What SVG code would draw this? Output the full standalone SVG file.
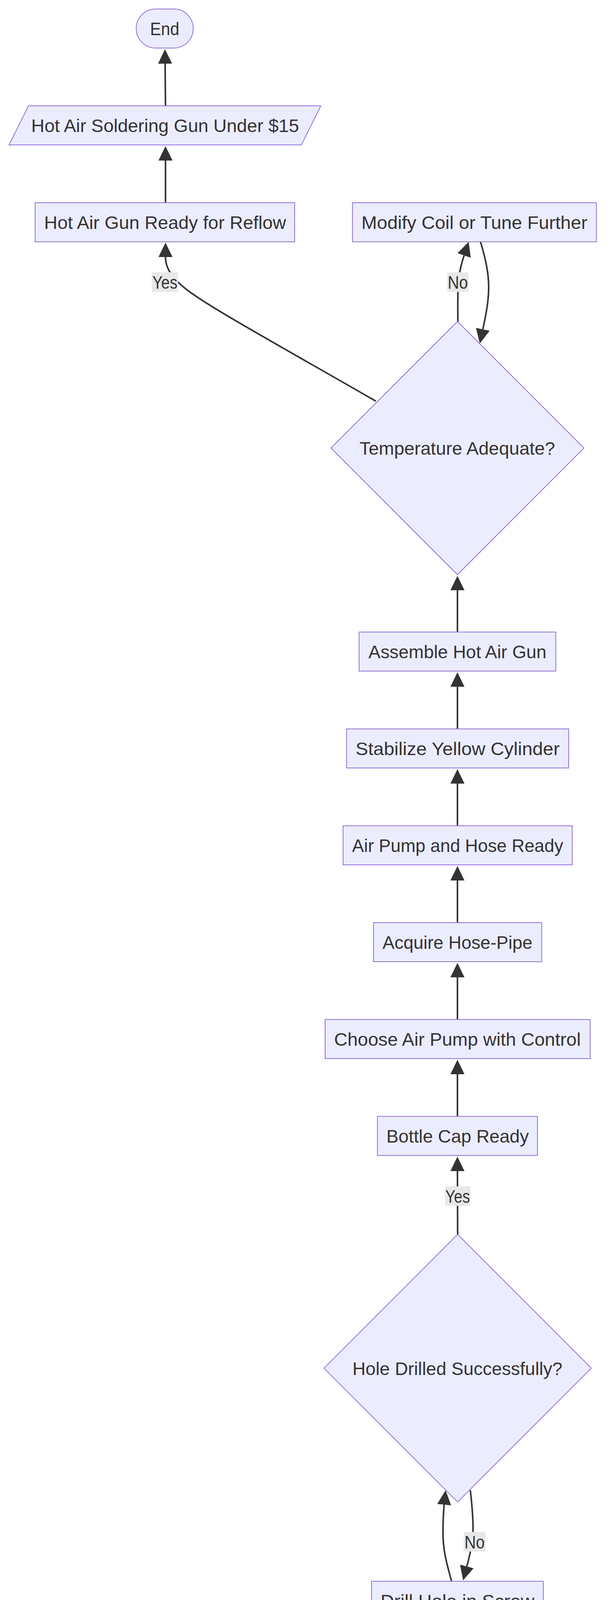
<svg xmlns="http://www.w3.org/2000/svg" width="1568" height="5272" viewBox="0 0 1568 5272">
<style>
.node rect, .node polygon { fill: #ECECFF; stroke: #9370DB; stroke-width: 2; }
text { font-family: "Liberation Sans", Arial, sans-serif; font-size: 46px; fill: #333333; text-anchor: middle; }
.edge { fill: none; stroke: #333333; stroke-width: 4; marker-end: url(#arrow); }
.lbl rect { fill: #e8e8e8; stroke: none; }
</style>
<defs>
<marker id="arrow" markerUnits="userSpaceOnUse" markerWidth="37" markerHeight="36" viewBox="0 0 37 36" refX="0" refY="18" orient="auto">
<path d="M0,0 L37,18 L0,36 z" fill="#333333"/>
</marker>
</defs>
<rect x="0" y="0" width="1568" height="5272" fill="#ffffff"/>
<g id="connectors">
<path class="edge" d="M1172,5094 L1172,4986"/>
<path class="edge" d="M1172,4846 L1172,4738"/>
<path class="edge" d="M1172,4598 L1172,4436"/>
<path class="edge" d="M1172,4296 L1172,4188"/>
<path class="edge" d="M1157,4048 C1145,4005 1135,3970 1135,3925 C1135,3895 1136,3872 1138,3852"/>
<path class="edge" d="M1205,3815 C1209,3850 1212,3880 1212,3912 C1212,3950 1204,3980 1196,4010"/>
<path class="edge" d="M1172.5,3160 L1172,2998"/>
<path class="edge" d="M1172,2858 L1172,2750"/>
<path class="edge" d="M1172,2610 L1172,2502"/>
<path class="edge" d="M1172,2362 L1172,2254"/>
<path class="edge" d="M1172,2114 L1172,2006"/>
<path class="edge" d="M1172,1866 L1172,1758"/>
<path class="edge" d="M1172,1618 L1172,1511"/>
<path class="edge" d="M1173,823 C1173,780 1172,750 1175,715 C1178,690 1183,672 1189,654"/>
<path class="edge" d="M1231,619 C1245,665 1252,700 1252,735 C1252,775 1244,810 1237,843"/>
<path class="edge" d="M963,1027 C760,910 560,800 490,750 C445,718 424,690 424,658"/>
<path class="edge" d="M424,519 L424,411"/>
<path class="edge" d="M424,271 L423,163"/>
</g>
<g id="edge-labels">
<g class="lbl" id="label-yes-temp"><rect x="389" y="697" width="67" height="50"/><text x="422.5" y="739" textLength="64" lengthAdjust="spacingAndGlyphs">Yes</text></g>
<g class="lbl" id="label-no-temp"><rect x="1146" y="697" width="54" height="50"/><text x="1173" y="739" textLength="52" lengthAdjust="spacingAndGlyphs">No</text></g>
<g class="lbl" id="label-yes-hole"><rect x="1140" y="3037" width="65" height="50"/><text x="1172.5" y="3079" textLength="63" lengthAdjust="spacingAndGlyphs">Yes</text></g>
<g class="lbl" id="label-no-hole"><rect x="1188" y="3922" width="56" height="50"/><text x="1216" y="3964" textLength="52" lengthAdjust="spacingAndGlyphs">No</text></g>
<g class="lbl" id="label-separated"><rect x="1005" y="4472" width="335" height="50"/><text x="1172.5" y="4514" textLength="333" lengthAdjust="spacingAndGlyphs">Separated Parts</text></g>
</g>
<g id="node-end" class="node"><rect x="349" y="23" width="146" height="100" rx="50" ry="50"/><text x="422" y="90" textLength="75" lengthAdjust="spacingAndGlyphs">End</text></g>
<g id="node-output" class="node"><polygon points="73,271 822,271 772,371 23,371"/><text x="423" y="338" textLength="686" lengthAdjust="spacingAndGlyphs">Hot Air Soldering Gun Under $15</text></g>
<g id="node-ready" class="node"><rect x="90" y="519" width="665" height="100"/><text x="423" y="586" textLength="620" lengthAdjust="spacingAndGlyphs">Hot Air Gun Ready for Reflow</text></g>
<g id="node-modify" class="node"><rect x="903" y="519" width="625" height="100"/><text x="1215.5" y="586" textLength="579" lengthAdjust="spacingAndGlyphs">Modify Coil or Tune Further</text></g>
<g id="node-temp" class="node"><polygon points="1172,823 1496,1147 1172,1471 848,1147"/><text x="1171.5" y="1164" textLength="501" lengthAdjust="spacingAndGlyphs">Temperature Adequate?</text></g>
<g id="node-assemble" class="node"><rect x="920" y="1618" width="504" height="100"/><text x="1172" y="1685" textLength="456" lengthAdjust="spacingAndGlyphs">Assemble Hot Air Gun</text></g>
<g id="node-stabilize" class="node"><rect x="888" y="1866" width="569" height="100"/><text x="1172.5" y="1933" textLength="523" lengthAdjust="spacingAndGlyphs">Stabilize Yellow Cylinder</text></g>
<g id="node-pumpready" class="node"><rect x="879" y="2114" width="587" height="100"/><text x="1172.5" y="2181" textLength="541" lengthAdjust="spacingAndGlyphs">Air Pump and Hose Ready</text></g>
<g id="node-hose" class="node"><rect x="957" y="2362" width="431" height="100"/><text x="1172" y="2429" textLength="384" lengthAdjust="spacingAndGlyphs">Acquire Hose-Pipe</text></g>
<g id="node-pump" class="node"><rect x="833" y="2610" width="679" height="100"/><text x="1172" y="2677" textLength="632" lengthAdjust="spacingAndGlyphs">Choose Air Pump with Control</text></g>
<g id="node-capready" class="node"><rect x="967" y="2858" width="410" height="100"/><text x="1172.5" y="2925" textLength="365" lengthAdjust="spacingAndGlyphs">Bottle Cap Ready</text></g>
<g id="node-hole" class="node"><polygon points="1172.5,3160 1515,3502.5 1172.5,3845 830,3502.5"/><text x="1172" y="3520" textLength="538" lengthAdjust="spacingAndGlyphs">Hole Drilled Successfully?</text></g>
<g id="node-drill" class="node"><rect x="952" y="4048" width="440" height="100"/><text x="1172" y="4115" textLength="394" lengthAdjust="spacingAndGlyphs">Drill Hole in Screw</text></g>
<g id="node-cap" class="node"><rect x="964" y="4296" width="416" height="100"/><text x="1172.5" y="4363" textLength="369" lengthAdjust="spacingAndGlyphs">Select Bottle Cap</text></g>
<g id="node-disassemble" class="node"><rect x="841" y="4598" width="662" height="100"/><text x="1172" y="4665" textLength="616" lengthAdjust="spacingAndGlyphs">Disassemble Desoldering Iron</text></g>
<g id="node-gather" class="node"><rect x="972" y="4846" width="400" height="100"/><text x="1172.5" y="4913" textLength="353" lengthAdjust="spacingAndGlyphs">Gather Materials</text></g>
<g id="node-start" class="node"><rect x="1085" y="5094" width="174" height="100" rx="50" ry="50"/><text x="1172" y="5161" textLength="104" lengthAdjust="spacingAndGlyphs">Start</text></g>
</svg>
